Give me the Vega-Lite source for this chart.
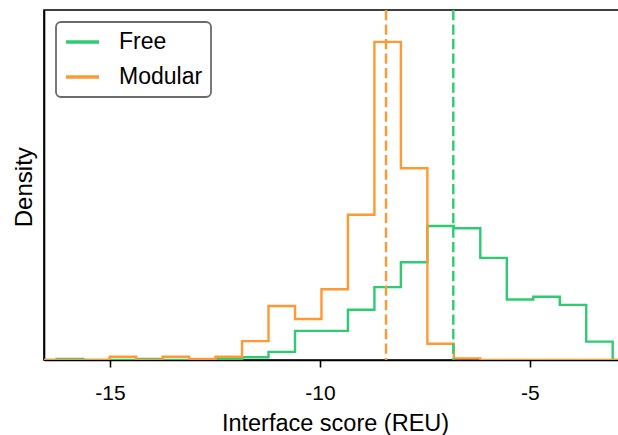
{
  "$schema": "https://vega.github.io/schema/vega-lite/v6.json",
  "width": 582,
  "height": 350,
  "autosize": {"type": "none"},
  "padding": {"left": 44, "top": 10, "right": 0, "bottom": 75},
  "config": {
    "font": "Liberation Sans",
    "view": {"stroke": "black", "strokeWidth": 1.6},
    "axis": {
      "domainColor": "black", "domainWidth": 1.6,
      "tickColor": "black", "tickWidth": 1.6, "tickSize": 7,
      "labelColor": "black", "titleColor": "black",
      "titleFontWeight": "normal", "grid": false,
      "labelFont": "Liberation Sans", "titleFont": "Liberation Sans"
    },
    "legend": {
      "orient": "none", "legendX": 12, "legendY": 12,
      "labelFontSize": 23, "labelColor": "black", "labelFont": "Liberation Sans",
      "symbolType": "M-1,0H2.3", "symbolStrokeWidth": 3.3, "symbolSize": 400,
      "labelOffset": 31, "padding": 8, "rowPadding": 11,
      "strokeColor": "#6b6b6b", "strokeWidth": 1.8, "fillColor": "white", "cornerRadius": 5
    }
  },
  "datasets": {
    "hist": [
      {"series": "Free", "bin_start": -16.6, "density": 0},
      {"series": "Free", "bin_start": -16.268, "density": 0.002},
      {"series": "Free", "bin_start": -15.638, "density": 0},
      {"series": "Free", "bin_start": -15.007, "density": 0},
      {"series": "Free", "bin_start": -14.377, "density": 0.002},
      {"series": "Free", "bin_start": -13.746, "density": 0},
      {"series": "Free", "bin_start": -13.116, "density": 0},
      {"series": "Free", "bin_start": -12.486, "density": 0.002},
      {"series": "Free", "bin_start": -11.855, "density": 0.005},
      {"series": "Free", "bin_start": -11.225, "density": 0.015},
      {"series": "Free", "bin_start": -10.594, "density": 0.054},
      {"series": "Free", "bin_start": -9.964, "density": 0.054},
      {"series": "Free", "bin_start": -9.334, "density": 0.093},
      {"series": "Free", "bin_start": -8.703, "density": 0.135},
      {"series": "Free", "bin_start": -8.073, "density": 0.181},
      {"series": "Free", "bin_start": -7.442, "density": 0.248},
      {"series": "Free", "bin_start": -6.812, "density": 0.244},
      {"series": "Free", "bin_start": -6.182, "density": 0.189},
      {"series": "Free", "bin_start": -5.551, "density": 0.112},
      {"series": "Free", "bin_start": -4.921, "density": 0.117},
      {"series": "Free", "bin_start": -4.290, "density": 0.102},
      {"series": "Free", "bin_start": -3.660, "density": 0.034},
      {"series": "Free", "bin_start": -3.030, "density": 0},
      {"series": "Free", "bin_start": -2.6, "density": 0},
      {"series": "Modular", "bin_start": -16.6, "density": 0},
      {"series": "Modular", "bin_start": -16.268, "density": 0},
      {"series": "Modular", "bin_start": -15.638, "density": 0},
      {"series": "Modular", "bin_start": -15.007, "density": 0.006},
      {"series": "Modular", "bin_start": -14.377, "density": 0},
      {"series": "Modular", "bin_start": -13.746, "density": 0.006},
      {"series": "Modular", "bin_start": -13.116, "density": 0.002},
      {"series": "Modular", "bin_start": -12.486, "density": 0.006},
      {"series": "Modular", "bin_start": -11.855, "density": 0.035},
      {"series": "Modular", "bin_start": -11.225, "density": 0.100},
      {"series": "Modular", "bin_start": -10.594, "density": 0.076},
      {"series": "Modular", "bin_start": -9.964, "density": 0.131},
      {"series": "Modular", "bin_start": -9.334, "density": 0.269},
      {"series": "Modular", "bin_start": -8.703, "density": 0.589},
      {"series": "Modular", "bin_start": -8.073, "density": 0.355},
      {"series": "Modular", "bin_start": -7.442, "density": 0.030},
      {"series": "Modular", "bin_start": -6.812, "density": 0.003},
      {"series": "Modular", "bin_start": -6.182, "density": 0},
      {"series": "Modular", "bin_start": -5.551, "density": 0},
      {"series": "Modular", "bin_start": -4.921, "density": 0},
      {"series": "Modular", "bin_start": -4.290, "density": 0},
      {"series": "Modular", "bin_start": -3.660, "density": 0},
      {"series": "Modular", "bin_start": -3.030, "density": 0},
      {"series": "Modular", "bin_start": -2.6, "density": 0}
    ],
    "means": [
      {"series": "Free", "mean": -6.825},
      {"series": "Modular", "mean": -8.427}
    ]
  },
  "layer": [
    {
      "data": {"name": "hist"},
      "mark": {"type": "line", "interpolate": "step-after", "strokeWidth": 2.4, "clip": true},
      "encoding": {
        "x": {
          "field": "bin_start", "type": "quantitative",
          "scale": {"domain": [-16.57, -2.713], "nice": false, "zero": false},
          "axis": {
            "values": [-15, -10, -5], "labelExpr": "'' + datum.value",
            "labelFontSize": 21, "labelPadding": 15,
            "title": "Interface score (REU)", "titleFontSize": 23.5,
            "titleBaseline": "alphabetic", "titleY": 70
          }
        },
        "y": {
          "field": "density", "type": "quantitative",
          "scale": {"domain": [0, 0.648], "nice": false},
          "axis": {
            "labels": false, "ticks": false, "title": "Density",
            "titleFontSize": 24, "titleBaseline": "alphabetic",
            "titleX": -13, "titleY": 176.7, "titleAlign": "center", "titleAngle": -90
          }
        },
        "color": {
          "field": "series", "type": "nominal",
          "scale": {"domain": ["Free", "Modular"], "range": ["#2ecc71", "#ff9933"]},
          "legend": {"title": null}
        },
        "order": {"field": "bin_start", "type": "quantitative"}
      }
    },
    {
      "data": {"name": "means"},
      "mark": {"type": "rule", "strokeWidth": 2.4, "strokeDash": [10.3, 4.2]},
      "encoding": {
        "x": {"field": "mean", "type": "quantitative"},
        "color": {"field": "series", "type": "nominal"}
      }
    }
  ]
}
